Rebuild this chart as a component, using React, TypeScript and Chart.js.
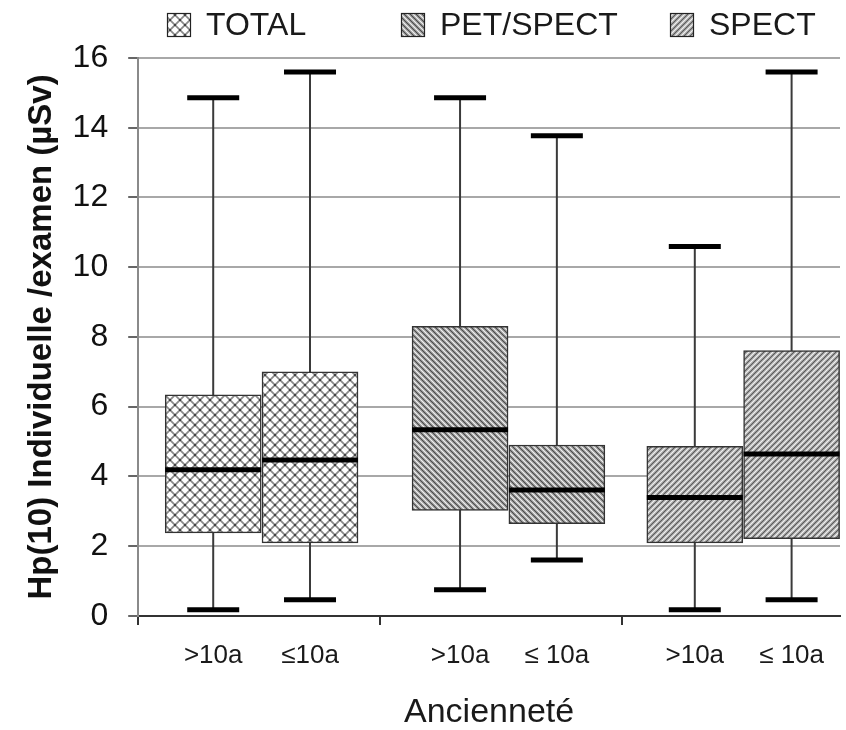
import React, { useEffect, useRef } from 'react';
import { Chart, registerables } from 'chart.js';

Chart.register(...registerables);

// ---- data ----
const groups = ['TOTAL', 'PET/SPECT', 'SPECT'];
const tickLabels = ['>10a', '≤10a', '>10a', '≤ 10a', '>10a', '≤ 10a'];
const boxPositions = [0.31, 0.71, 1.33, 1.73, 2.3, 2.7];
const boxGroup = [0, 0, 1, 1, 2, 2];
const mins = [0.17, 0.46, 0.75, 1.6, 0.17, 0.46];
const q1 = [2.38, 2.09, 3.02, 2.64, 2.09, 2.21];
const medians = [4.19, 4.47, 5.34, 3.61, 3.39, 4.64];
const q3 = [6.34, 7.0, 8.3, 4.9, 4.86, 7.61];
const maxs = [14.86, 15.6, 14.86, 13.77, 10.59, 15.6];
const groupTicks = [0, 1, 2];
const xMax = 2.9;
const yMax = 16;
const yStep = 2;
const yTitle = 'Hp(10) Individuelle /examen (µSv)';
const xTitle = 'Ancienneté';

const FONT = '"Liberation Sans", Arial, Helvetica, sans-serif';

function makePattern(kind: number): CanvasPattern | string {
  const c = document.createElement('canvas');
  const ctx = c.getContext('2d');
  if (!ctx) return '#ccc';
  if (kind === 0) {
    const s = 10;
    c.width = s;
    c.height = s;
    ctx.fillStyle = '#ffffff';
    ctx.fillRect(0, 0, s, s);
    ctx.strokeStyle = '#8a8a8a';
    ctx.lineWidth = 1.8;
    ctx.beginPath();
    ctx.moveTo(-1, -1);
    ctx.lineTo(s + 1, s + 1);
    ctx.moveTo(s + 1, -1);
    ctx.lineTo(-1, s + 1);
    ctx.stroke();
    ctx.fillStyle = '#444';
    ctx.fillRect(4, 4, 2, 2);
    ctx.fillRect(0, 0, 1, 1);
    ctx.fillRect(s - 1, s - 1, 1, 1);
    ctx.fillRect(0, s - 1, 1, 1);
    ctx.fillRect(s - 1, 0, 1, 1);
  } else {
    const s = 6;
    c.width = s;
    c.height = s;
    ctx.fillStyle = kind === 1 ? '#b6b6b6' : '#c0c0c0';
    ctx.fillRect(0, 0, s, s);
    const flip = kind === 2;
    const line = (x1: number, y1: number, x2: number, y2: number) => {
      if (flip) {
        ctx.moveTo(s - x1, y1);
        ctx.lineTo(s - x2, y2);
      } else {
        ctx.moveTo(x1, y1);
        ctx.lineTo(x2, y2);
      }
    };
    ctx.strokeStyle = kind === 1 ? '#474747' : '#575757';
    ctx.lineWidth = 1.2;
    ctx.beginPath();
    line(-1, -1, s + 1, s + 1);
    line(-1, s - 1, 1, s + 1);
    line(s - 1, -1, s + 1, 1);
    ctx.stroke();
    ctx.strokeStyle = '#f0f0f0';
    ctx.lineWidth = 1;
    ctx.beginPath();
    line(-1, s / 2 - 1, s / 2 + 1, s + 1);
    line(s / 2 - 1, -1, s + 1, s / 2 + 1);
    ctx.stroke();
  }
  return ctx.createPattern(c, 'repeat') || '#ccc';
}

function makeLegendPlugin(pats: (CanvasPattern | string)[]) {
  return {
    id: 'customLegend',
    afterDraw(chart: any) {
      const ctx = chart.ctx as CanvasRenderingContext2D;
      const boxX = [167, 401, 670];
      const boxY = 13;
      const boxS = 24;
      ctx.save();
      ctx.font = `32px ${FONT}`;
      ctx.textBaseline = 'middle';
      ctx.textAlign = 'left';
      groups.forEach((g, i) => {
        ctx.fillStyle = pats[i] as any;
        ctx.fillRect(boxX[i], boxY, boxS, boxS);
        ctx.strokeStyle = '#222';
        ctx.lineWidth = 1.2;
        ctx.strokeRect(boxX[i] + 0.5, boxY + 0.5, boxS - 1, boxS - 1);
        ctx.fillStyle = '#1a1a1a';
        ctx.fillText(g, boxX[i] + boxS + 15, boxY + boxS / 2 + 1);
      });
      ctx.restore();
    },
  };
}

export default function App() {
  const ref = useRef<HTMLCanvasElement | null>(null);

  useEffect(() => {
    if (!ref.current) return;
    const patterns = groups.map((_, i) => makePattern(i));

    const boxDatasets = groups.map((g, gi) => ({
      type: 'bar' as const,
      label: g,
      data: boxPositions
        .map((x, i) => ({ x, y: [q1[i], q3[i]], g: boxGroup[i] }))
        .filter((d) => d.g === gi)
        .map((d) => ({ x: d.x, y: d.y })),
      backgroundColor: patterns[gi],
      borderColor: '#333',
      borderWidth: 1.5,
      borderSkipped: false,
      barThickness: 96,
      grouped: false,
      order: 2,
    }));

    const whiskerData: any[] = [];
    boxPositions.forEach((x, i) => {
      whiskerData.push({ x, y: mins[i] }, { x, y: maxs[i] }, { x, y: null });
    });

    const whiskers = {
      type: 'line' as const,
      label: 'whiskers',
      data: whiskerData,
      borderColor: '#3a3a3a',
      borderWidth: 2,
      pointRadius: 0,
      spanGaps: false,
      fill: false,
      order: 5,
    };

    const caps = {
      type: 'scatter' as const,
      label: 'caps',
      data: boxPositions.flatMap((x, i) => [
        { x, y: mins[i] },
        { x, y: maxs[i] },
      ]),
      pointStyle: 'line',
      pointRadius: 26,
      pointBorderWidth: 5,
      borderWidth: 5,
      borderColor: '#000',
      pointBorderColor: '#000',
      order: 0,
    };

    const medianDs = {
      type: 'scatter' as const,
      label: 'medians',
      data: boxPositions.map((x, i) => ({ x, y: medians[i] })),
      pointStyle: 'line',
      pointRadius: 48,
      pointBorderWidth: 5,
      borderWidth: 5,
      borderColor: '#000',
      pointBorderColor: '#000',
      order: 0,
    };

    // tick positions: group boundaries, box centres, and the axis end (blank)
    const allTicks = [...groupTicks, ...boxPositions, xMax].sort((a, b) => a - b);
    const isGroupTick = (v: number) => groupTicks.some((g) => Math.abs(g - v) < 1e-6);

    const chart = new Chart(ref.current, {
      type: 'bar',
      data: { datasets: [...boxDatasets, whiskers, caps, medianDs] as any },
      options: {
        responsive: false,
        animation: false,
        devicePixelRatio: 1,
        layout: { autoPadding: false, padding: { left: 10, right: 6, top: 58, bottom: 0 } },
        plugins: {
          legend: { display: false },
          tooltip: { enabled: false },
        },
        scales: {
          x: {
            type: 'linear',
            position: 'bottom',
            min: 0,
            max: xMax,
            offset: false,
            afterBuildTicks: (scale: any) => {
              scale.ticks = allTicks.map((v) => ({ value: v }));
            },
            ticks: {
              autoSkip: false,
              maxRotation: 0,
              padding: 0,
              color: '#1a1a1a',
              font: { family: FONT, size: 26 },
              callback: (value: any) => {
                const i = boxPositions.findIndex((p) => Math.abs(p - Number(value)) < 1e-6);
                return i >= 0 ? tickLabels[i] : '';
              },
            },
            grid: {
              offset: false,
              drawOnChartArea: false,
              drawTicks: true,
              tickLength: 24,
              tickBorderDash: [8, 200],
              lineWidth: 2,
              color: (c: any) => (c.tick && isGroupTick(c.tick.value) ? '#333' : 'rgba(0,0,0,0)'),
              tickColor: (c: any) => (c.tick && isGroupTick(c.tick.value) ? '#333' : 'rgba(0,0,0,0)'),
            },
            border: { display: true, color: '#333', width: 2 },
            title: {
              display: true,
              text: xTitle,
              color: '#1a1a1a',
              font: { family: FONT, size: 34, lineHeight: 1 },
              padding: { top: 25, bottom: 0 },
            },
          },
          y: {
            type: 'linear',
            min: 0,
            max: yMax,
            ticks: {
              stepSize: yStep,
              padding: 20,
              color: '#111',
              font: { family: FONT, size: 32 },
            },
            grid: {
              color: '#a8a8a8',
              lineWidth: 2,
              tickLength: 10,
              tickColor: '#666',
            },
            border: { display: true, color: '#8a8a8a', width: 2 },
            title: {
              display: true,
              text: yTitle,
              color: '#111',
              font: { family: FONT, size: 33, weight: 'bold', lineHeight: 1.2 },
              padding: { top: 12, bottom: -9 },
            },
          },
        },
      },
      plugins: [makeLegendPlugin(patterns)],
    });

    return () => chart.destroy();
  }, []);

  return (
    <div style={{ position: 'absolute', left: 0, top: 0, width: 846, height: 730, background: '#fff' }}>
      <canvas ref={ref} width={846} height={730} style={{ display: 'block' }} />
    </div>
  );
}
